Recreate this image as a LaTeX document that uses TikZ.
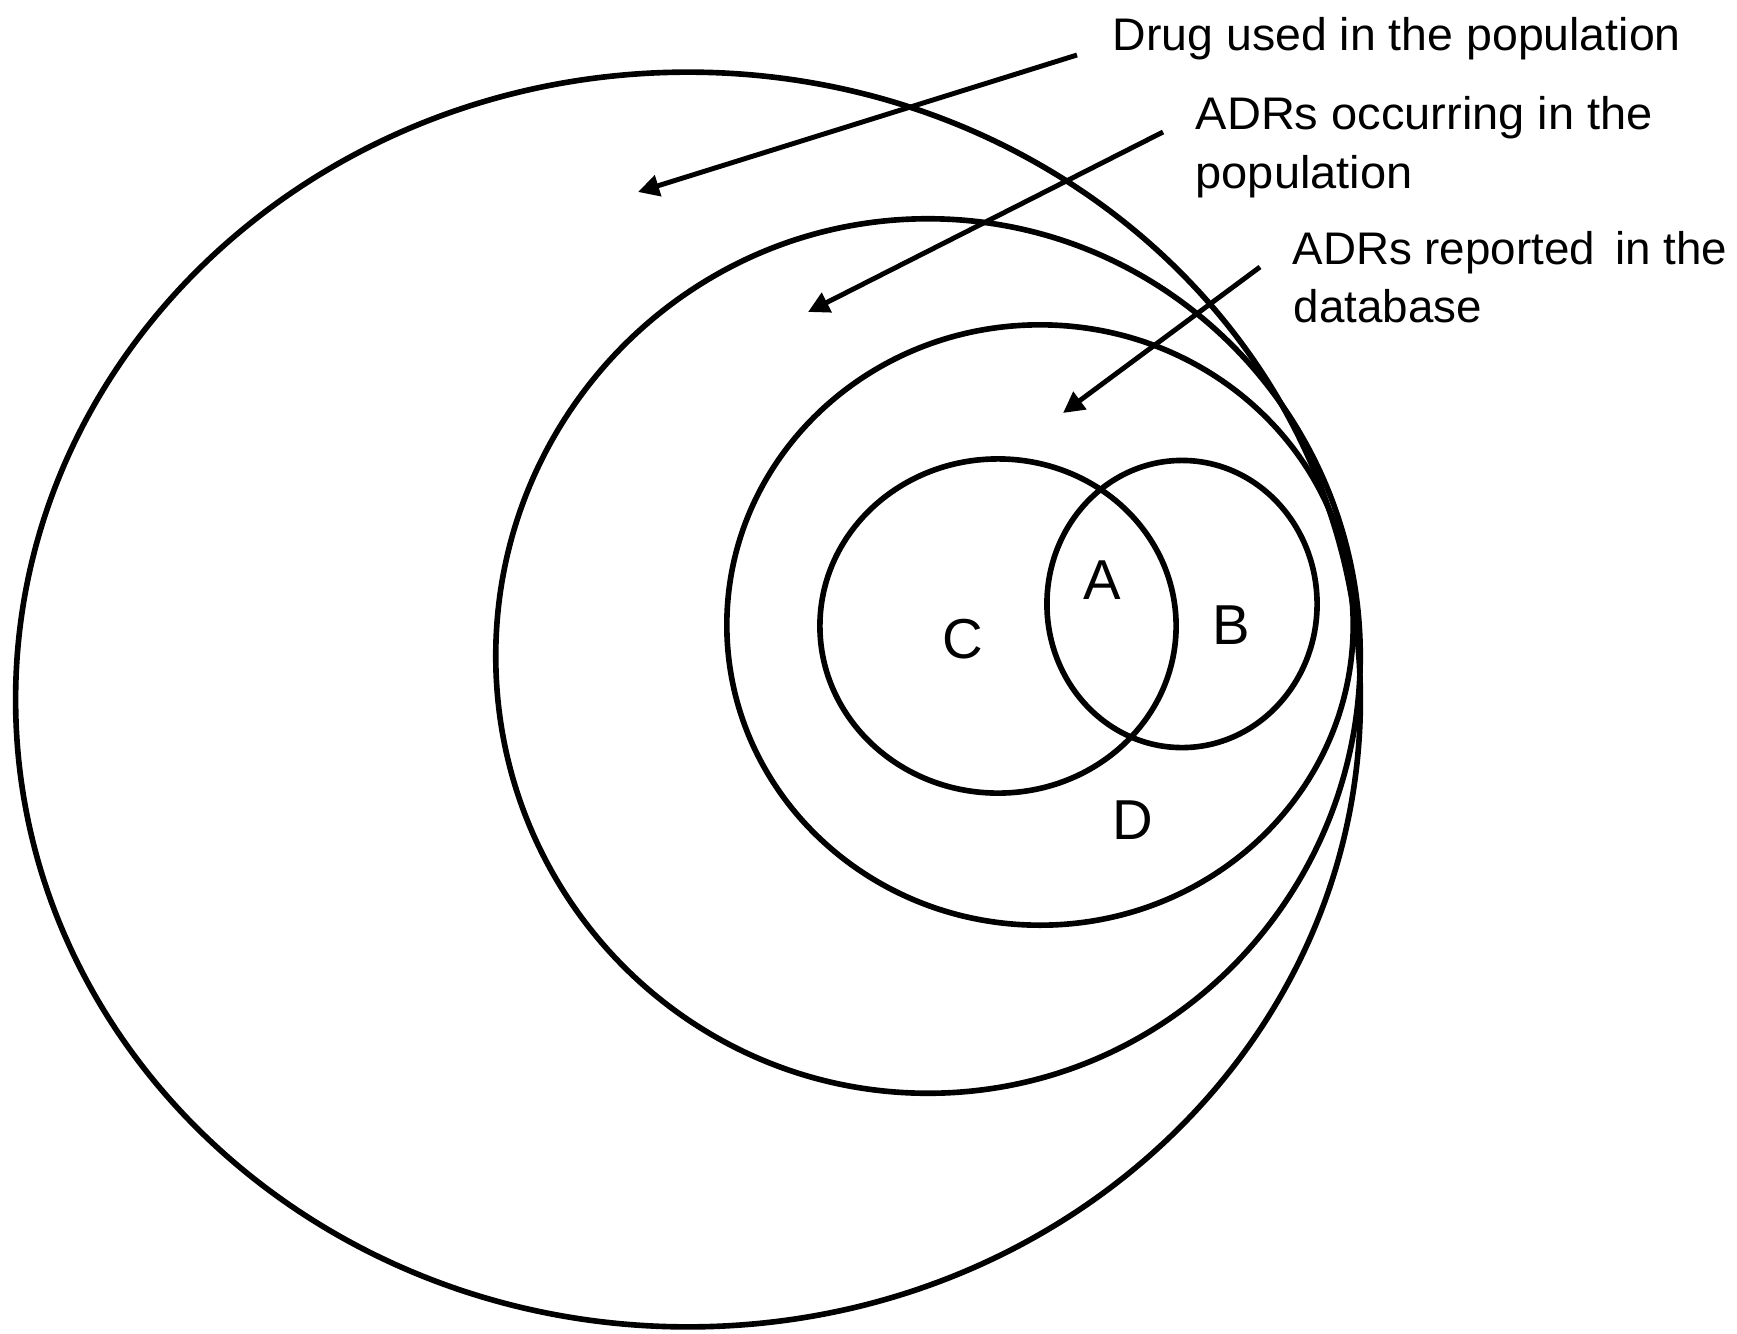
\documentclass[tikz,border=0pt]{standalone}
\usepackage{fontspec}
\setmainfont{Liberation Sans}
\usetikzlibrary{arrows.meta}
\begin{document}
\begin{tikzpicture}[x=0.01cm,y=-0.01cm,
  ring/.style={line width=1.6pt},
  pointer/.style={line width=1.4pt,-{Triangle[length=6pt,width=6pt]}},
  lab/.style={font=\fontsize{13}{15}\selectfont, anchor=base west, inner sep=0pt},
  region/.style={font=\fontsize{16}{19}\selectfont, inner sep=0pt}]
\useasboundingbox (0,0) rectangle (1737,1333);
\fill[white] (0,0) rectangle (1737,1333);
% circles
\draw[ring] (688,699.5) ellipse [x radius=6.72cm, y radius=6.27cm];
\draw[ring] (928,656) ellipse [x radius=4.32cm, y radius=4.37cm];
\draw[ring] (1040,625) ellipse [x radius=3.13cm, y radius=3.00cm];
\draw[ring] (998,626) ellipse [x radius=1.78cm, y radius=1.67cm];
\draw[ring] (1182,604) ellipse [x radius=1.35cm, y radius=1.435cm];
% region labels
\node[region] (A) at (1102,580) {A};
\node[region] (B) at (1231,625) {B};
\node[region] (C) at (963,639) {C};
\node[region] (D) at (1133,820) {D};
% text labels
\node[lab] (t1) at (1112,50) {\scalebox{1.016}[1]{Drug used in the population}};
\node[lab] (t2a) at (1195,129) {\scalebox{1.028}[1]{ADRs occurring in the}};
\node[lab] (t2b) at (1195,188) {\scalebox{1.028}[1]{population}};
\node[lab] (t3a) at (1292,264) {\scalebox{1.0}[1]{ADRs reported\, in the}};
\node[lab] (t3b) at (1293,322) {\scalebox{1.0}[1]{database}};
% arrows
\coordinate (s1) at (1077,55);  \coordinate (e1) at (638,192);
\coordinate (s2) at (1163,132); \coordinate (e2) at (808,312);
\coordinate (s3) at (1260,267); \coordinate (e3) at (1063,413);
\draw[pointer] (s1) -- (e1);
\draw[pointer] (s2) -- (e2);
\draw[pointer] (s3) -- (e3);
\end{tikzpicture}
\end{document}
